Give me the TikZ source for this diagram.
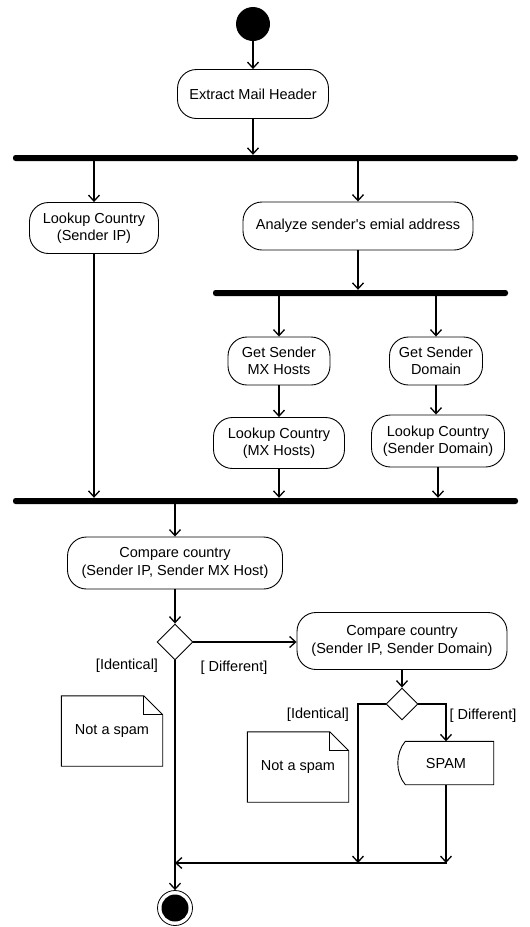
\documentclass[tikz,border=0pt]{standalone}
\usepackage{fontspec}
\setmainfont{Liberation Sans}[Ligatures=TeXOff]
\usetikzlibrary{arrows.meta,shapes.geometric}
\tikzset{
  act/.style={draw, rounded corners=19pt, align=center, inner sep=0pt, line width=0.9pt},
  forkbar/.style={fill=black, rounded corners=2.5pt, minimum height=6pt, inner sep=0pt},
  arr/.style={-{Straight Barb[length=6pt,width=11pt]}, line width=1.3pt},
  lab/.style={inner sep=0pt},
  dec/.style={draw, diamond, inner sep=0pt, line width=0.9pt},
  notebox/.style={inner sep=0pt, align=center},
  noteline/.style={line width=0.9pt},
}
\begin{document}
\begin{tikzpicture}[x=1pt,y=-1pt,font=\fontsize{14.5}{17.5}\selectfont]
\useasboundingbox (0,0) rectangle (530,927);
% nodes
\node[circle, fill=black, minimum size=34pt, inner sep=0pt] (start) at (253,24) {};
\node[act, minimum width=151pt, minimum height=49pt] (extract) at (253,94) {Extract Mail Header};
\node[forkbar, minimum width=505pt] (bar1) at (265.5,158) {};
\node[act, minimum width=129pt, minimum height=51pt] (ipl) at (94,228) {Lookup Country\\(Sender IP)};
\node[act, minimum width=230pt, minimum height=48pt] (analyze) at (358,226) {Analyze sender's emial address};
\node[forkbar, minimum width=295pt] (bar2) at (360.5,293) {};
\node[act, minimum width=102pt, minimum height=48pt] (mx) at (279,361) {Get Sender\\MX Hosts};
\node[act, minimum width=93pt, minimum height=48pt] (dom) at (436,361) {Get Sender\\Domain};
\node[act, minimum width=131pt, minimum height=51pt] (lmx) at (279,443) {Lookup Country\\(MX Hosts)};
\node[act, minimum width=133pt, minimum height=52pt] (ldom) at (438,441) {Lookup Country\\(Sender Domain)};
\node[forkbar, minimum width=505pt] (bar3) at (265.5,501) {};
\node[act, minimum width=215pt, minimum height=52pt] (cmp1) at (175,563) {Compare country\\(Sender IP, Sender MX Host)};
\node[dec, minimum width=36pt, minimum height=36pt] (d1) at (175,642) {};
\node[act, minimum width=210pt, minimum height=57pt] (cmp2) at (402,641) {Compare country\\(Sender IP, Sender Domain)};
\node[dec, minimum width=32pt, minimum height=32pt] (d2) at (402,704) {};
\node[notebox, minimum width=101pt, minimum height=70pt] (note1) at (112,731) {Not a spam};
\node[notebox, minimum width=101pt, minimum height=70pt] (note2) at (298,767) {Not a spam};
\node[inner sep=0pt, minimum width=95pt, minimum height=43pt] (spam) at (446,763) {SPAM};
\node[circle, draw, line width=0.8pt, minimum size=35pt, inner sep=0pt] (final) at (175,908) {};
\fill (final.center) circle (13.5pt);
% labels
\node[lab] (l1) at (127,666) {[Identical]};
\node[lab] (l2) at (234,668) {[ Different]};
\node[lab] (l3) at (318,715) {[Identical]};
\node[lab] (l4) at (483,716) {[ Different]};
% note shapes
\foreach \n in {note1,note2}{
  \draw[noteline] (\n.north west) -- ([xshift=-19pt]\n.north east) -- ([yshift=-19pt]\n.north east) -- (\n.south east) -- (\n.south west) -- cycle;
  \draw[noteline] ([xshift=-19pt]\n.north east) -- ([xshift=-19pt,yshift=-19pt]\n.north east) -- ([yshift=-19pt]\n.north east);
}
% spam shape
\draw[line width=0.9pt] (spam.north east) -- (spam.south east) -- ([xshift=7pt]spam.south west)
  .. controls ([xshift=-3pt,yshift=12pt]spam.south west) and ([xshift=-3pt,yshift=-12pt]spam.north west) .. ([xshift=7pt]spam.north west) -- cycle;
% connectors
\draw[arr] (start) -- (extract);
\draw[arr] (extract.south) -- (extract.south |- bar1.north);
\draw[arr] (bar1.south -| ipl.north) -- (ipl.north);
\draw[arr] (bar1.south -| analyze.north) -- (analyze.north);
\draw[arr] (analyze.south) -- (analyze.south |- bar2.north);
\draw[arr] (bar2.south -| mx.north) -- (mx.north);
\draw[arr] (bar2.south -| dom.north) -- (dom.north);
\draw[arr] (mx.south) -- (lmx.north);
\draw[arr] (dom.south) -- (dom.south |- ldom.north);
\draw[arr] (ipl.south) -- (ipl.south |- bar3.north);
\draw[arr] (lmx.south) -- (lmx.south |- bar3.north);
\draw[arr] (ldom.south) -- (ldom.south |- bar3.north);
\draw[arr] (bar3.south -| cmp1.north) -- (cmp1.north);
\draw[arr] (cmp1.south) -- (d1.north);
\draw[arr] (d1.east) -- (d1.east -| cmp2.west);
\draw[arr] (cmp2.south) -- (d2.north);
\coordinate (mr) at (447,863);
\coordinate (ml) at (358,863);
\draw[arr] (d2.west) -| (ml);
\draw[arr] (d2.east) -| (spam.north);
\draw[arr] (spam.south) -- (spam.south |- mr);
\draw[arr] (mr) -- (mr -| d1.south);
\draw[arr] (d1.south) -- (final.north);
\end{tikzpicture}
\end{document}
